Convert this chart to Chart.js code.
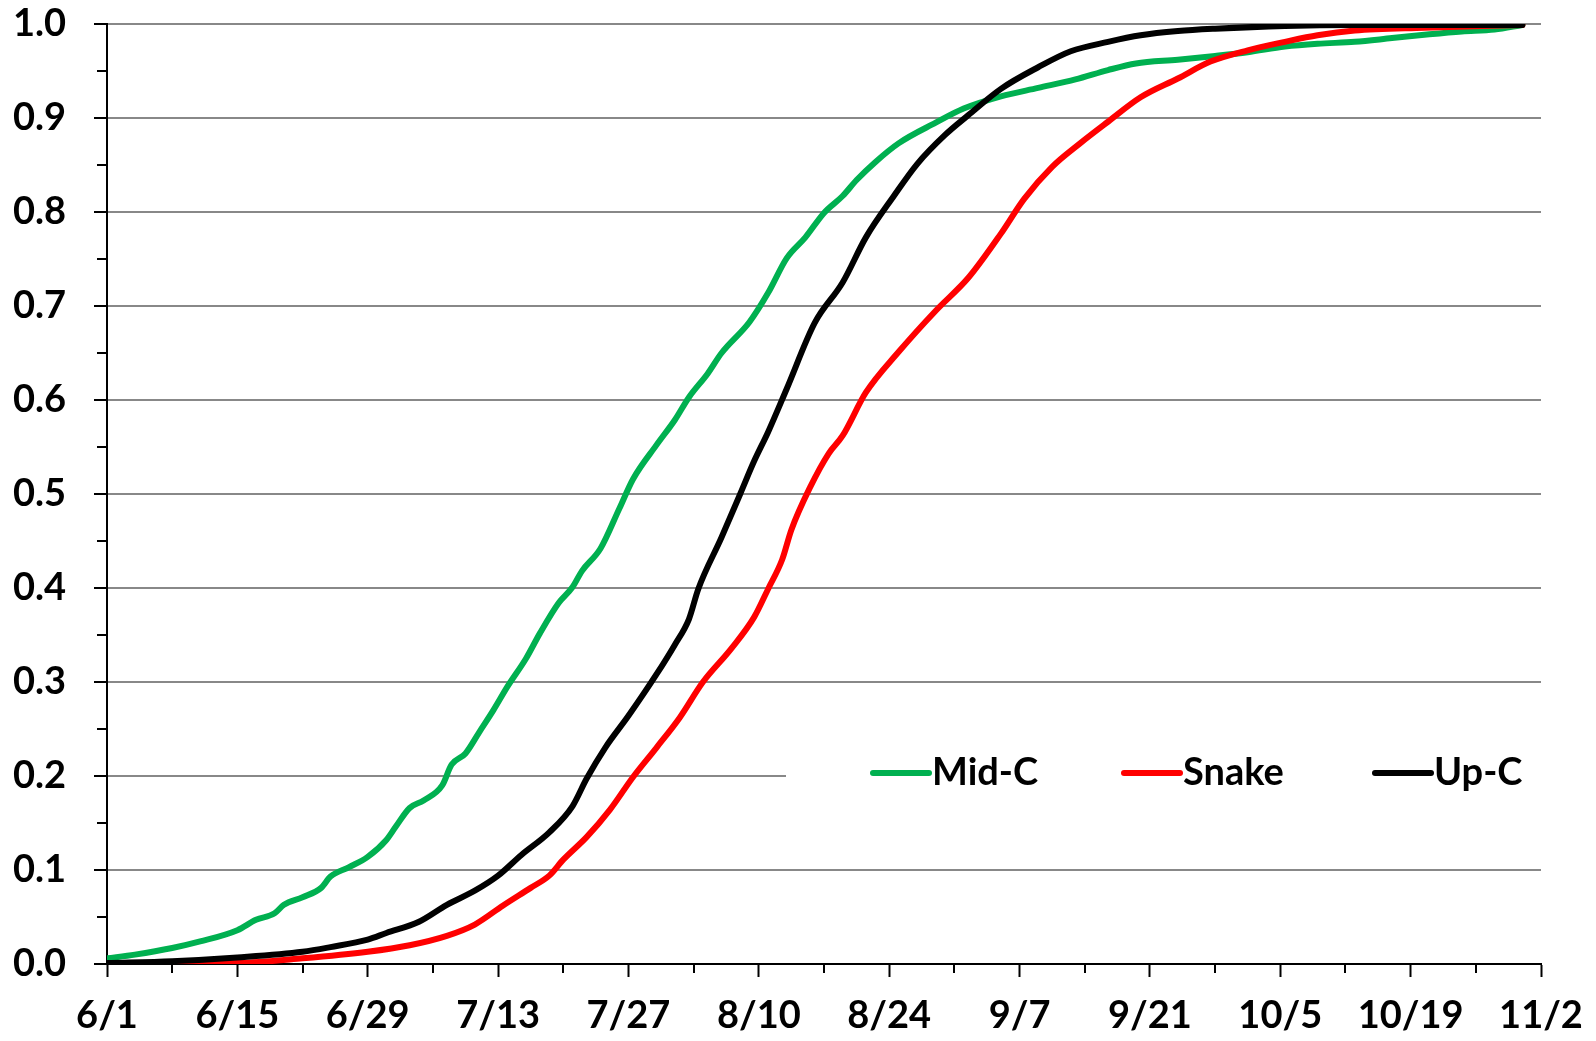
<!DOCTYPE html>
<html>
<head>
<meta charset="utf-8">
<script src="https://cdn.jsdelivr.net/npm/chart.js@4.4.1/dist/chart.umd.min.js"></script>
<style>
  html, body { margin: 0; padding: 0; background: #ffffff; }
  #wrap { width: 1596px; height: 1041px; }
</style>
</head>
<body>
<div id="wrap"><canvas id="c" width="1596" height="1041"></canvas></div>
<script>
// ---- Data (days since 6/1, cumulative proportion) ----
const seriesNames = ['Mid-C', 'Snake', 'Up-C'];
const seriesColors = ['#00B050', '#FF0000', '#000000'];

const xTickLabels = ['6/1','6/15','6/29','7/13','7/27','8/10','8/24','9/7','9/21','10/5','10/19','11/2'];
const yTickLabels = ['0.0','0.1','0.2','0.3','0.4','0.5','0.6','0.7','0.8','0.9','1.0'];

const midcDays = [0, 3, 7, 10, 14, 16, 18, 19, 21, 23, 24, 26, 28, 30, 31, 32.5, 34, 36, 37, 38.5, 40, 41.5, 43, 45, 46.5, 48.5, 50, 51, 53, 55, 56.5, 59, 61, 62.5, 64.5, 66, 69, 71, 73, 75, 77, 79, 80.5, 82.5, 85, 89, 92, 96, 100, 104, 107.5, 110.5, 115, 119, 122.5, 126.5, 130, 134, 138, 142, 145.5, 149, 152];
const midcValues = [0.006, 0.010, 0.017, 0.024, 0.036, 0.047, 0.054, 0.063, 0.071, 0.081, 0.093, 0.103, 0.114, 0.132, 0.146, 0.166, 0.174, 0.190, 0.212, 0.224, 0.247, 0.270, 0.295, 0.325, 0.352, 0.384, 0.401, 0.418, 0.442, 0.484, 0.516, 0.552, 0.579, 0.603, 0.628, 0.650, 0.683, 0.714, 0.751, 0.773, 0.799, 0.817, 0.834, 0.853, 0.873, 0.895, 0.910, 0.923, 0.932, 0.941, 0.951, 0.958, 0.962, 0.966, 0.970, 0.976, 0.979, 0.981, 0.985, 0.989, 0.992, 0.994, 0.999];

const snakeDays = [0, 7, 14, 21, 28, 32.5, 36.5, 39.5, 42.5, 45.5, 47.5, 49, 51.5, 54, 56.5, 59, 61.5, 64, 67, 69.5, 71, 72.5, 73.5, 75.5, 77.5, 79, 81.5, 85, 89, 92.5, 96, 98.5, 101.5, 104.5, 107.5, 111, 115, 118.5, 122.5, 126.5, 130, 134, 141.5, 152];
const snakeValues = [0.000, 0.0005, 0.001, 0.006, 0.013, 0.020, 0.030, 0.042, 0.062, 0.081, 0.094, 0.111, 0.135, 0.164, 0.199, 0.230, 0.262, 0.300, 0.335, 0.369, 0.399, 0.430, 0.462, 0.507, 0.543, 0.562, 0.608, 0.651, 0.695, 0.730, 0.777, 0.814, 0.848, 0.873, 0.896, 0.922, 0.942, 0.960, 0.972, 0.981, 0.988, 0.993, 0.996, 0.999];

const upcDays = [0, 7, 14, 21, 24, 28, 30, 33.5, 36.5, 39.5, 42, 44.5, 47.5, 50, 51.5, 53.5, 56, 59, 61, 62.5, 63.5, 66, 68, 69.5, 71, 73, 76, 79, 81.5, 84.5, 87, 90, 92.5, 96, 100, 103.5, 107.5, 111, 115, 119, 126.5, 134, 152];
const upcValues = [0.001, 0.003, 0.007, 0.013, 0.018, 0.026, 0.033, 0.045, 0.063, 0.078, 0.094, 0.116, 0.140, 0.168, 0.197, 0.230, 0.264, 0.308, 0.340, 0.367, 0.399, 0.454, 0.500, 0.535, 0.566, 0.612, 0.682, 0.725, 0.773, 0.817, 0.851, 0.882, 0.903, 0.931, 0.954, 0.971, 0.981, 0.988, 0.9925, 0.995, 0.998, 0.999, 0.999];

const seriesDays = [midcDays, snakeDays, upcDays];
const seriesValues = [midcValues, snakeValues, upcValues];
const drawOrder = [3, 2, 1];

const FONT = 'Lato, "Open Sans", "DejaVu Sans", sans-serif';

const datasets = seriesNames.map((name, i) => ({
  label: name,
  data: seriesDays[i].map((d, j) => ({ x: d, y: seriesValues[i][j] })),
  borderColor: seriesColors[i],
  backgroundColor: seriesColors[i],
  borderWidth: 6,
  pointRadius: 0,
  pointHoverRadius: 0,
  fill: false,
  cubicInterpolationMode: 'monotone',
  borderCapStyle: 'round',
  borderJoinStyle: 'round',
  order: drawOrder[i]
}));

function isMajorX(v) { return Math.round(v) % 14 === 0; }
function isMajorY(v) { return Math.round(v * 100) % 10 === 0; }

const minorTicks = {
  id: 'minorTicks',
  afterDraw(chart) {
    const ctx = chart.ctx;
    const xs = chart.scales.x, ys = chart.scales.y;
    ctx.save();
    ctx.strokeStyle = '#000';
    ctx.lineWidth = 2;
    xs.ticks.forEach(t => {
      if (!isMajorX(t.value)) {
        const px = Math.round(xs.getPixelForValue(t.value));
        ctx.beginPath();
        ctx.moveTo(px, ys.bottom);
        ctx.lineTo(px, ys.bottom + 9);
        ctx.stroke();
      }
    });
    ys.ticks.forEach(t => {
      if (!isMajorY(t.value)) {
        const py = Math.round(ys.getPixelForValue(t.value));
        ctx.beginPath();
        ctx.moveTo(xs.left, py);
        ctx.lineTo(xs.left - 10, py);
        ctx.stroke();
      }
    });
    ctx.restore();
  }
};

const innerLegend = {
  id: 'innerLegend',
  afterDatasetsDraw(chart, args, opts) {
    const ctx = chart.ctx;
    const ca = chart.chartArea;
    ctx.save();
    ctx.fillStyle = '#ffffff';
    ctx.fillRect(opts.boxLeft, opts.boxTop, ca.right - opts.boxLeft + 1, opts.boxHeight);
    ctx.font = 'bold ' + opts.fontSize + 'px ' + FONT;
    ctx.textBaseline = 'middle';
    ctx.textAlign = 'left';
    chart.data.datasets.forEach((ds, i) => {
      const x0 = opts.itemLeft + i * opts.itemStep;
      ctx.strokeStyle = ds.borderColor;
      ctx.lineWidth = 6;
      ctx.lineCap = 'round';
      ctx.beginPath();
      ctx.moveTo(x0, opts.itemY);
      ctx.lineTo(x0 + opts.sampleLen, opts.itemY);
      ctx.stroke();
      ctx.fillStyle = '#000';
      ctx.fillText(ds.label, x0 + opts.sampleLen + 3, opts.itemY);
    });
    ctx.restore();
  }
};

new Chart(document.getElementById('c'), {
  type: 'line',
  data: { datasets },
  options: {
    responsive: false,
    animation: false,
    devicePixelRatio: 1,
    layout: { padding: { left: 0, right: 55, top: 24, bottom: 0 } },
    plugins: {
      legend: { display: false },
      tooltip: { enabled: false },
      innerLegend: {
        boxLeft: 786, boxTop: 748, boxHeight: 52,
        itemLeft: 873, itemStep: 251, itemY: 773, sampleLen: 56, fontSize: 38
      }
    },
    scales: {
      x: {
        type: 'linear',
        min: 0, max: 154,
        afterFit(scale) { scale.height = 77; scale.paddingLeft = 0; scale.paddingRight = 0; },
        ticks: {
          stepSize: 7,
          autoSkip: false,
          maxRotation: 0,
          padding: 16,
          color: '#000',
          font: { family: FONT, size: 38, weight: 'bold' },
          callback: (v) => isMajorX(v) ? xTickLabels[Math.round(v) / 14] : ''
        },
        grid: {
          drawOnChartArea: false,
          drawTicks: true,
          tickLength: 13,
          tickWidth: 2,
          tickColor: (c) => (c.tick && isMajorX(c.tick.value)) ? '#000' : 'rgba(0,0,0,0)'
        },
        border: { display: true, color: '#000', width: 2 }
      },
      y: {
        type: 'linear',
        min: 0, max: 1,
        afterFit(scale) { scale.width = 107; scale.paddingTop = 0; scale.paddingBottom = 0; },
        ticks: {
          stepSize: 0.05,
          autoSkip: false,
          padding: 28,
          color: '#000',
          font: { family: FONT, size: 38, weight: 'bold' },
          callback: (v) => isMajorY(v) ? yTickLabels[Math.round(v * 10)] : ''
        },
        grid: {
          drawOnChartArea: true,
          drawTicks: true,
          tickLength: 13,
          lineWidth: (c) => (c.tick && isMajorY(c.tick.value)) ? 2 : 0,
          color: '#888888',
          tickWidth: 2,
          tickColor: (c) => (c.tick && isMajorY(c.tick.value)) ? '#000' : 'rgba(0,0,0,0)'
        },
        border: { display: true, color: '#000', width: 2 }
      }
    }
  },
  plugins: [minorTicks, innerLegend]
});
</script>
</body>
</html>
